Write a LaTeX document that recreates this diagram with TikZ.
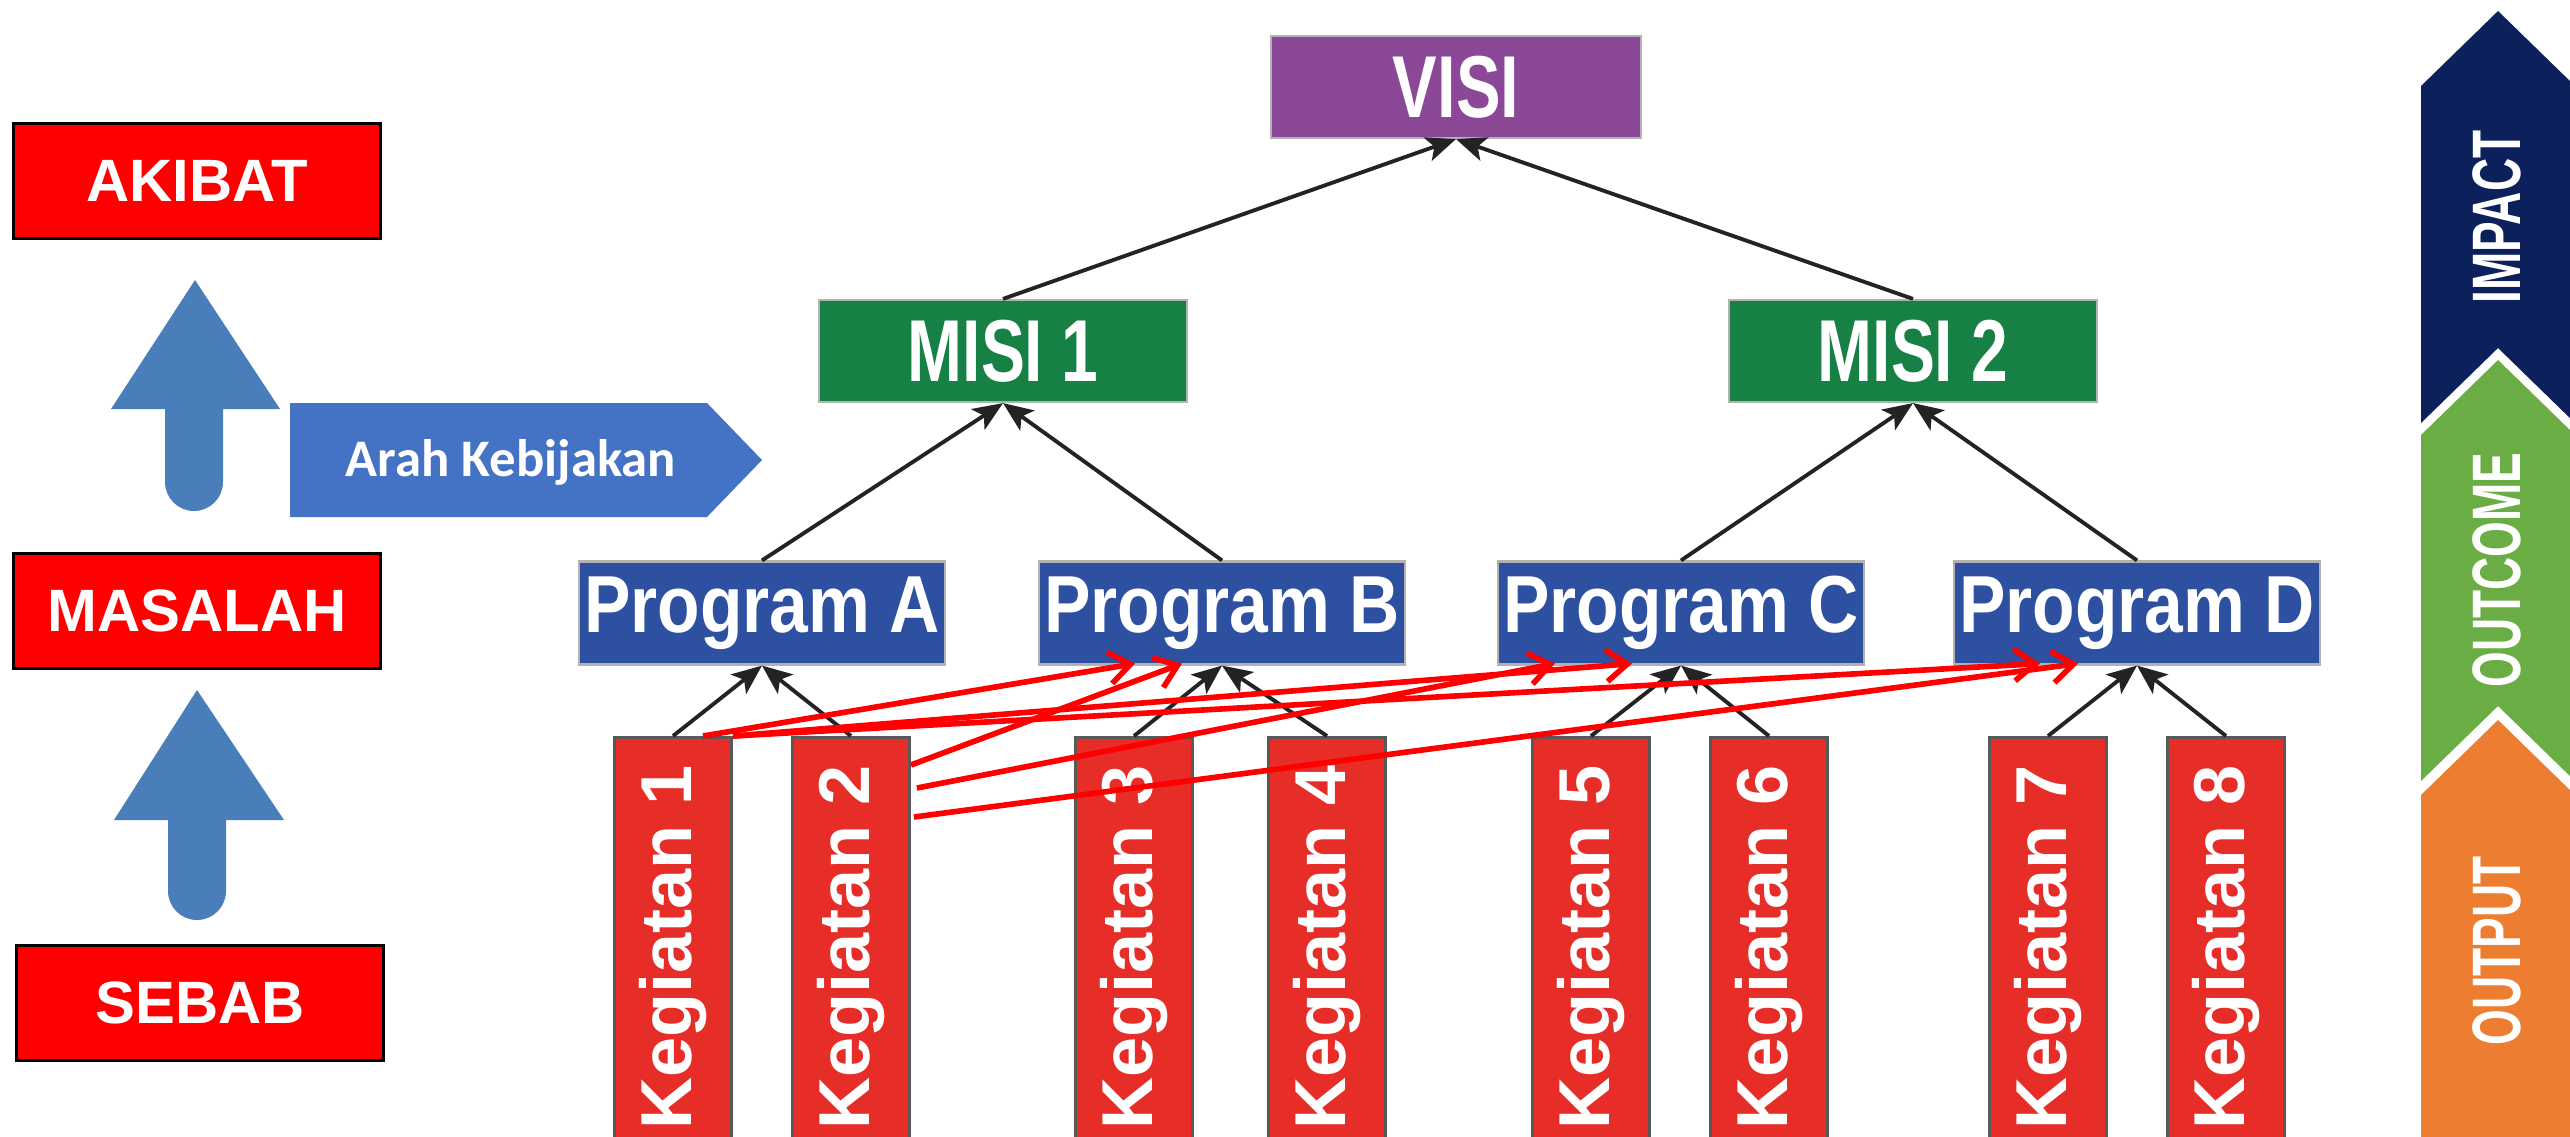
\documentclass[tikz,border=0pt]{standalone}
\usepackage{fontspec}
\setmainfont{Liberation Sans}
\newfontfamily\carlito{Carlito}
\usetikzlibrary{arrows.meta,calc}

\definecolor{causered}{RGB}{255,0,0}
\definecolor{upblue}{RGB}{74,126,187}
\definecolor{arahblue}{RGB}{68,114,196}
\definecolor{visipurple}{RGB}{138,72,150}
\definecolor{misigreen}{RGB}{22,128,69}
\definecolor{progblue}{RGB}{46,80,160}
\definecolor{kegred}{RGB}{230,45,40}
\definecolor{impactnavy}{RGB}{12,32,92}
\definecolor{outcomegreen}{RGB}{106,173,69}
\definecolor{outputorange}{RGB}{236,125,49}
\definecolor{linkgray}{RGB}{35,35,35}

\begin{document}
\begin{tikzpicture}[x=0.01cm, y=-0.01cm,
  every node/.style={text=white, inner sep=0pt},
  causebox/.style={draw=black, line width=1pt, fill=causered, minimum width=3.67cm,
    minimum height=1.15cm, font=\fontsize{17}{20}\selectfont\bfseries},
  visibox/.style={draw=gray!60, line width=0.6pt, fill=visipurple, minimum width=3.69cm,
    minimum height=1.02cm, font=\fontsize{25}{30}\selectfont\bfseries},
  misibox/.style={visibox, fill=misigreen, minimum width=3.67cm},
  progbox/.style={draw=gray!60, line width=0.6pt, fill=progblue, minimum width=3.66cm,
    minimum height=1.03cm, font=\fontsize{23}{28}\selectfont\bfseries},
  kegbox/.style={draw=black!65, line width=0.8pt, fill=kegred, anchor=north,
    minimum width=1.17cm, minimum height=4.2cm, font=\fontsize{20.5}{25}\selectfont\bfseries},
  stage/.style={rotate=90, font=\fontsize{19.5}{23}\selectfont\bfseries},
  link/.style={draw=linkgray, line width=1.1pt, -{Stealth[length=8.5pt,width=7pt,inset=2pt]}},
  cross/.style={draw=red, line width=1.6pt, -{Straight Barb[length=6pt,width=9pt]}}]
  \useasboundingbox (0,0) rectangle (2570,1136);

  % sebab, masalah, akibat
  \node [causebox] (akibat) at (197,181) {AKIBAT};
  \node [causebox] (masalah) at (197,611) {MASALAH};
  \node [causebox] (sebab) at (200,1003) {SEBAB};
  \fill [upblue] (165,482) -- (165,409) -- (111,409) -- (195,280) -- (280,409)
    -- (223,409) -- (223,482) arc [start angle=0, end angle=180, radius=29] -- cycle;
  \fill [upblue] (168,891) -- (168,820) -- (114,820) -- (197,690) -- (284,820)
    -- (226,820) -- (226,891) arc [start angle=0, end angle=180, radius=29] -- cycle;
  \fill [arahblue] (290,403) -- (707,403) -- (762,460) -- (707,517) -- (290,517) -- cycle;
  \node [font=\carlito\fontsize{15}{18}\selectfont\bfseries] (arah) at (511,462) {Arah Kebijakan};

  % visi, misi, program
  \node [visibox] (visi) at (1456,87) {\scalebox{0.76}[1]{VISI}};
  \node [misibox] (misi1) at (1003,351) {\scalebox{0.75}[1]{MISI 1}};
  \node [misibox] (misi2) at (1913,351) {\scalebox{0.75}[1]{MISI 2}};
  \node [progbox] (proga) at (762,613) {\scalebox{0.86}[1]{Program A}};
  \node [progbox] (progb) at (1222,613) {\scalebox{0.86}[1]{Program B}};
  \node [progbox] (progc) at (1681,613) {\scalebox{0.86}[1]{Program C}};
  \node [progbox] (progd) at (2137,613) {\scalebox{0.86}[1]{Program D}};

  % kegiatan
  \node [kegbox] (keg1) at (673,736) {\rotatebox{90}{Kegiatan 1}};
  \node [kegbox] (keg2) at (851,736) {\rotatebox{90}{Kegiatan 2}};
  \node [kegbox] (keg3) at (1134,736) {\rotatebox{90}{Kegiatan 3}};
  \node [kegbox] (keg4) at (1327,736) {\rotatebox{90}{Kegiatan 4}};
  \node [kegbox] (keg5) at (1591,736) {\rotatebox{90}{Kegiatan 5}};
  \node [kegbox] (keg6) at (1769,736) {\rotatebox{90}{Kegiatan 6}};
  \node [kegbox] (keg7) at (2048,736) {\rotatebox{90}{Kegiatan 7}};
  \node [kegbox] (keg8) at (2226,736) {\rotatebox{90}{Kegiatan 8}};

  \draw [link] (misi1.north) -- (visi.south);
  \draw [link] (misi2.north) -- (visi.south);
  \draw [link] (proga.north) -- (misi1.south);
  \draw [link] (progb.north) -- (misi1.south);
  \draw [link] (progc.north) -- (misi2.south);
  \draw [link] (progd.north) -- (misi2.south);
  \draw [link] (keg1.north) -- (proga.south);
  \draw [link] (keg2.north) -- (proga.south);
  \draw [link] (keg3.north) -- (progb.south);
  \draw [link] (keg4.north) -- (progb.south);
  \draw [link] (keg5.north) -- (progc.south);
  \draw [link] (keg6.north) -- (progc.south);
  \draw [link] (keg7.north) -- (progd.south);
  \draw [link] (keg8.north) -- (progd.south);

  % lintas program
  \coordinate (s1) at ($(keg1.north)+(30,0)$);
  \coordinate (s2) at (keg1.north east);
  \coordinate (s3) at ($(keg2.north east)+(0,29)$);
  \coordinate (s4) at ($(keg2.north east)+(6,52)$);
  \coordinate (s5) at ($(keg2.north east)+(3,81)$);
  \coordinate (tb1) at ($(progb.south)+(-87,-2)$);
  \coordinate (tb2) at ($(progb.south)+(-40,-2)$);
  \coordinate (tc1) at ($(progc.south)+(-126,-2)$);
  \coordinate (tc2) at ($(progc.south)+(-49,-2)$);
  \coordinate (td1) at ($(progd.south)+(-97,-2)$);
  \coordinate (td2) at ($(progd.south)+(-59,-2)$);
  \draw [cross] (s1) -- (tb1);
  \draw [cross] (s3) -- (tb2);
  \draw [cross] (s4) -- (tc1);
  \draw [cross] (s2) -- (tc2);
  \draw [cross] (s2) -- (td1);
  \draw [cross] (s5) -- (td2);

  % impact, outcome, output
  \fill [impactnavy] (2421,86) -- (2498,11) -- (2575,86) -- (2575,423) -- (2498,348) -- (2421,423) -- cycle;
  \fill [outcomegreen] (2421,435) -- (2498,360) -- (2575,435) -- (2575,781) -- (2498,706) -- (2421,781) -- cycle;
  \fill [outputorange] (2421,795) -- (2498,720) -- (2575,795) -- (2575,1150) -- (2421,1150) -- cycle;
  \node [stage] (impact) at (2497,217) {\scalebox{0.67}[1]{IMPACT}};
  \node [stage] (outcome) at (2497,570) {\scalebox{0.67}[1]{OUTCOME}};
  \node [stage] (output) at (2497,951) {\scalebox{0.67}[1]{OUTPUT}};
\end{tikzpicture}
\end{document}
